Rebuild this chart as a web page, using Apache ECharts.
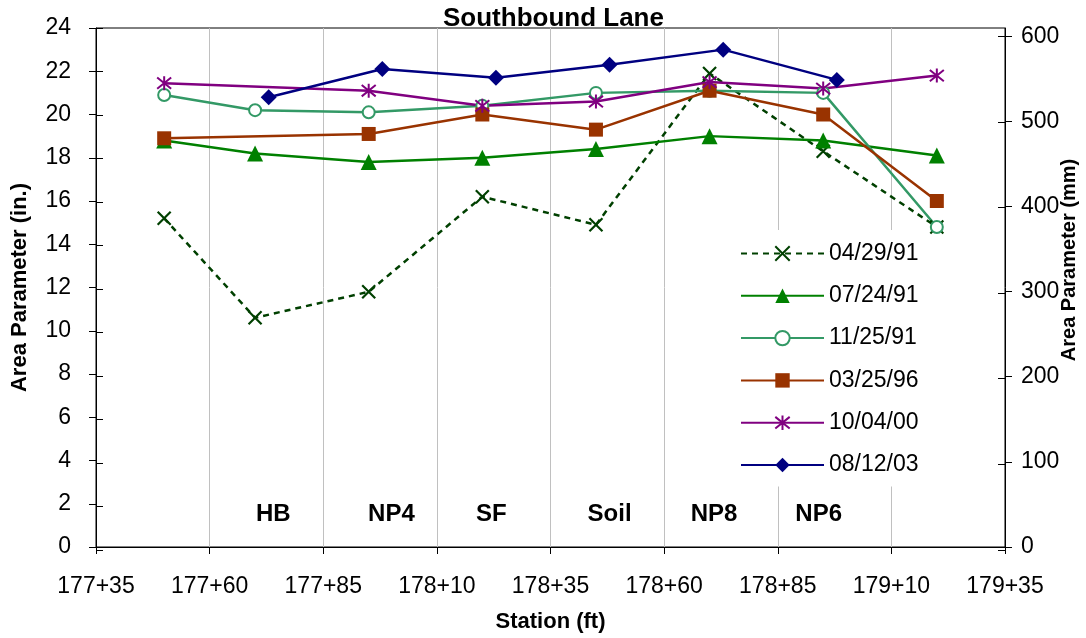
<!DOCTYPE html>
<html>
<head>
<meta charset="utf-8">
<script src="https://cdn.jsdelivr.net/npm/echarts@6/dist/echarts.min.js"></script>
<style>
  html, body { margin: 0; padding: 0; background: #fff; }
  #chart { width: 1086px; height: 638px; }
</style>
</head>
<body>
<div id="chart"></div>
<script>
// stations in ft (17750 = 177+50)
var stations = [17750, 17770, 17795, 17820, 17845, 17870, 17895, 17920];
var area042991 = [15.2, 10.6, 11.8, 16.2, 14.9, 21.9, 18.3, 14.8];
var area072491 = [18.8, 18.2, 17.8, 18.0, 18.4, 19.0, 18.8, 18.1];
var area112591 = [20.9, 20.2, 20.1, 20.4, 21.0, 21.1, 21.0, 14.8];
var area032596 = [18.9, null, 19.1, 20.0, 19.3, 21.1, 20.0, 16.0];
var area100400 = [21.45, null, 21.1, 20.4, 20.6, 21.5, 21.2, 21.8];
// the 2003 survey was read a few feet further on
var stations03 = [17773, 17798, 17823, 17848, 17873, 17898];
var area081203 = [20.8, 22.1, 21.7, 22.3, 23.0, 21.6];

var zoneNames = ['HB', 'NP4', 'SF', 'Soil', 'NP8', 'NP6'];
var zoneStations = [17774, 17800, 17822, 17848, 17871, 17894];
var zoneLevel = 1.5;

var mmTicks = [0, 100, 200, 300, 400, 500, 600];

var FONT = '"Liberation Sans", Arial, sans-serif';
var X_PATH = 'path://M0,0 L10,10 M10,0 L0,10';
var STAR_PATH = 'path://M0,0 L10,10 M10,0 L0,10 M5,-1.2 L5,11.2';

function pairs(xs, ys) {
  var out = [];
  for (var i = 0; i < xs.length; i++) {
    if (ys[i] != null) out.push([xs[i], ys[i]]);
  }
  return out;
}

function stationLabel(v) {
  var ft = Math.round(v);
  var rest = ft % 100;
  return Math.floor(ft / 100) + '+' + (rest < 10 ? '0' + rest : rest);
}

var myChart = echarts.init(document.getElementById('chart'));

var grid = { left: 96, right: 81, top: 28, bottom: 88 };

function lineSeries(name, data, color, symbol, size, extra) {
  var s = {
    name: name,
    type: 'line',
    xAxisIndex: 0,
    yAxisIndex: 0,
    data: data,
    symbol: symbol,
    symbolSize: size,
    showAllSymbol: true,
    connectNulls: true,
    lineStyle: { color: color, width: 2.5 },
    itemStyle: { color: color },
    emphasis: { disabled: true },
    animation: false
  };
  if (extra) {
    for (var k in extra) s[k] = extra[k];
  }
  return s;
}

var option = {
  backgroundColor: '#fff',
  animation: false,
  textStyle: { fontFamily: FONT },
  title: {
    text: 'Southbound Lane',
    left: 443,
    top: 6,
    padding: 0,
    textStyle: { fontFamily: FONT, fontSize: 26, fontWeight: 'bold', color: '#000' }
  },
  legend: {
    orient: 'vertical',
    left: 733,
    top: 230,
    padding: [12, 10, 10, 7],
    backgroundColor: '#fff',
    itemWidth: 83,
    itemHeight: 18,
    itemGap: 19.3,
    textStyle: { fontFamily: FONT, fontSize: 23, color: '#000' },
    data: ['04/29/91', '07/24/91', '11/25/91', '03/25/96', '10/04/00', '08/12/03']
  },
  grid: [
    { left: grid.left, right: grid.right, top: grid.top, bottom: grid.bottom,
      show: true, borderColor: '#000', borderWidth: 1 },
    { left: grid.left, right: grid.right, top: grid.top, bottom: grid.bottom }
  ],
  xAxis: [
    {
      type: 'value',
      gridIndex: 0,
      min: 17735,
      max: 17935,
      interval: 25,
      name: 'Station (ft)',
      nameLocation: 'middle',
      nameGap: 64,
      nameTextStyle: { fontFamily: FONT, fontSize: 22, fontWeight: 'bold', color: '#000' },
      axisLine: { lineStyle: { color: '#000', width: 1 } },
      axisTick: { length: 7, lineStyle: { color: '#000' } },
      axisLabel: {
        margin: 28, fontSize: 23, color: '#000', fontFamily: FONT,
        formatter: stationLabel
      },
      splitLine: { show: true, lineStyle: { color: '#c0c0c0', width: 1 } }
    },
    { type: 'value', gridIndex: 1, min: 17735, max: 17935, show: false }
  ],
  yAxis: [
    {
      type: 'value',
      gridIndex: 0,
      position: 'left',
      min: 0,
      max: 24,
      interval: 2,
      name: 'Area Parameter (in.)',
      nameLocation: 'middle',
      nameGap: 65,
      nameTextStyle: { fontFamily: FONT, fontSize: 22, fontWeight: 'bold', color: '#000' },
      axisLine: { show: true, lineStyle: { color: '#000', width: 1 } },
      axisTick: { show: true, length: 7, lineStyle: { color: '#000' } },
      axisLabel: { margin: 25, fontSize: 23, color: '#000', fontFamily: FONT },
      splitLine: { show: false }
    },
    {
      type: 'value',
      gridIndex: 0,
      position: 'right',
      min: 0,
      max: 24 * 25.4,
      interval: 100,
      axisLine: { show: true, lineStyle: { color: '#000', width: 1 } },
      axisTick: { show: true, length: 7, customValues: mmTicks, lineStyle: { color: '#000' } },
      axisLabel: { margin: 16, fontSize: 23, color: '#000', fontFamily: FONT, customValues: mmTicks },
      splitLine: { show: false }
    },
    // inside halves of the crossing ticks
    {
      type: 'value',
      gridIndex: 1,
      position: 'left',
      min: 0,
      max: 24,
      interval: 2,
      axisLine: { show: false },
      axisTick: { show: true, inside: true, length: 7, lineStyle: { color: '#000' } },
      axisLabel: { show: false },
      splitLine: { show: false }
    },
    {
      type: 'value',
      gridIndex: 1,
      position: 'right',
      min: 0,
      max: 24 * 25.4,
      interval: 100,
      axisLine: { show: false },
      axisTick: { show: true, inside: true, length: 7, customValues: mmTicks, lineStyle: { color: '#000' } },
      axisLabel: { show: false },
      splitLine: { show: false }
    }
  ],
  graphic: [
    {
      type: 'text',
      x: 1069,
      y: 260,
      rotation: Math.PI / 2,
      style: {
        text: 'Area Parameter (mm)',
        font: 'bold 20px ' + FONT,
        fill: '#000',
        align: 'center',
        verticalAlign: 'middle'
      }
    }
  ],
  series: [
    lineSeries('04/29/91', pairs(stations, area042991), '#004000', X_PATH, 13, {
      lineStyle: { color: '#004000', width: 2.5, type: [6, 5] },
      itemStyle: { color: '#004000', borderColor: '#004000', borderWidth: 2.2 }
    }),
    lineSeries('07/24/91', pairs(stations, area072491), '#008000', 'triangle', 16),
    lineSeries('11/25/91', pairs(stations, area112591), '#339966', 'emptyCircle', 12, {
      itemStyle: { color: '#339966', borderColor: '#339966', borderWidth: 2 }
    }),
    lineSeries('03/25/96', pairs(stations, area032596), '#993300', 'rect', 14),
    lineSeries('10/04/00', pairs(stations, area100400), '#800080', STAR_PATH, 14, {
      itemStyle: { color: '#800080', borderColor: '#800080', borderWidth: 2 }
    }),
    lineSeries('08/12/03', pairs(stations03, area081203), '#000080', 'diamond', 16),
    {
      name: 'zones',
      type: 'scatter',
      xAxisIndex: 0,
      yAxisIndex: 0,
      symbolSize: 0,
      silent: true,
      itemStyle: { color: '#000', opacity: 1 },
      emphasis: { disabled: true },
      data: zoneNames.map(function (n, i) { return [zoneStations[i], zoneLevel, n]; }),
      label: {
        show: true,
        position: [0, 0],
        align: 'center',
        verticalAlign: 'middle',
        formatter: function (p) { return p.data[2]; },
        fontFamily: FONT,
        fontSize: 24,
        fontWeight: 'bold',
        color: '#000',
        opacity: 1,
        textBorderWidth: 0
      }
    }
  ]
};

myChart.setOption(option);
</script>
</body>
</html>
